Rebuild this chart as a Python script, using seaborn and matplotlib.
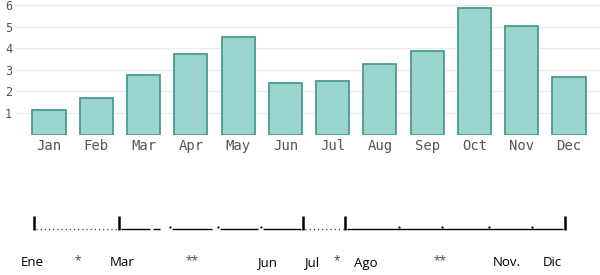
import matplotlib
matplotlib.use("Agg")
import matplotlib.pyplot as plt
import seaborn as sns
import pandas as pd

# ---- data ----
months = ["Jan", "Feb", "Mar", "Apr", "May", "Jun", "Jul", "Aug", "Sep", "Oct", "Nov", "Dec"]
values = [1.15, 1.7, 2.75, 3.75, 4.5, 2.4, 2.5, 3.25, 3.85, 5.85, 5.05, 2.65]
y_ticks = [1, 2, 3, 4, 5, 6]

# timeline annotation (pixel coordinates in a 600x275 canvas)
tl_labels = ["Ene", "*", "Mar", "**", "Jun", "Jul", "*", "Ago", "**", "Nov.", "Dic"]
tl_label_x = [32, 78, 122, 192, 267, 312, 337, 366, 440, 507, 552]
tl_ticks = [34, 119, 303, 345, 565]
tl_solid = [(121, 150), (153, 160), (172, 212), (220, 258), (263, 301), (347, 563)]
tl_dotted = [(36, 117), (305, 343)]
tl_dots = [170, 218, 261, 399, 442, 489, 532]

df = pd.DataFrame({"month": months, "value": values})

sns.set_theme(style="white")
plt.rcParams["font.family"] = ["DejaVu Sans"]

W, H = 600, 275
fig = plt.figure(figsize=(6, 2.75), dpi=100)

# bar chart axes: left 15px, right 600px, bottom at y=0 (134.6px)
y0_px, y6_px = 134.6, 5.0
unit = (y0_px - y6_px) / 6
top_px = 2
ymax = (y0_px - top_px) / unit
ax = fig.add_axes([15 / W, 1 - y0_px / H, (600 - 15) / W, (y0_px - top_px) / H])

sns.barplot(data=df, x="month", y="value", ax=ax, color="#9ad5cd",
            edgecolor="#4a9b93", linewidth=1.3, width=0.7, saturation=1)

px_per_bar = (569 - 49) / 11
ax.set_xlim(-(49 - 15) / px_per_bar, 11 + (600 - 569) / px_per_bar)
ax.set_ylim(0, ymax)
ax.set_yticks(y_ticks)
ax.set_yticklabels([str(v) for v in y_ticks], family="DejaVu Sans Mono",
                   fontsize=8.5, color="#555555")
ax.set_xticks(range(len(months)))
ax.set_xticklabels(months, family="DejaVu Sans Mono", fontsize=10, color="#555555")
ax.tick_params(axis="both", length=0)
ax.tick_params(axis="y", pad=2)
ax.tick_params(axis="x", pad=3)
ax.grid(axis="y", color="#ebebeb", linewidth=1)
ax.set_axisbelow(True)
ax.set_xlabel("")
ax.set_ylabel("")
for s in ax.spines.values():
    s.set_visible(False)

# timeline axes covering full figure in pixel coords
tax = fig.add_axes([0, 0, 1, 1], zorder=-1)
tax.set_xlim(0, W)
tax.set_ylim(H, 0)
tax.axis("off")

line_y = 229
for a, b in tl_solid:
    tax.plot([a, b], [line_y, line_y], color="black", linewidth=1.0, solid_capstyle="butt")
for a, b in tl_dotted:
    tax.plot([a, b], [line_y, line_y], color="#333333", linewidth=1.0,
             linestyle=(0, (0.8, 2.2)))
tax.vlines(tl_ticks, 216, 230, color="black", linewidth=1.8)
tax.scatter(tl_dots, [227] * len(tl_dots), s=2.5, color="black", linewidths=0)

for lbl, x in zip(tl_labels, tl_label_x):
    is_star = "*" in lbl
    tax.text(x, 263 if not is_star else 261, lbl, ha="center", va="center",
             fontsize=9.5 if not is_star else 8.5, family="Open Sans",
             color="black" if not is_star else "#444444")

fig.savefig("out.png", dpi=100, facecolor="white")
